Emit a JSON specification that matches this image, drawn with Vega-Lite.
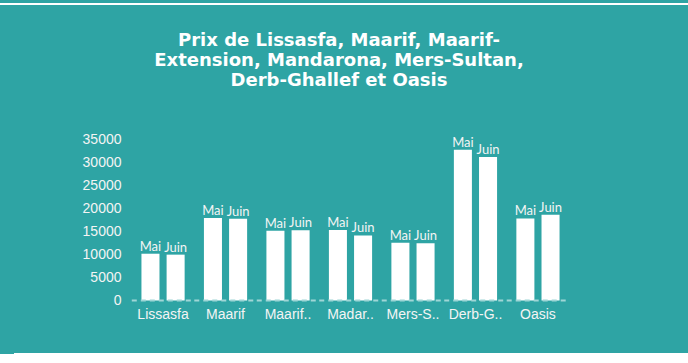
{
  "$schema": "https://vega.github.io/schema/vega-lite/v6.json",
  "width": 688,
  "height": 350,
  "autosize": {"type": "none"},
  "padding": {"left": 0, "top": 4, "right": 0, "bottom": 0},
  "background": "#2ea4a4",
  "view": {"stroke": "#ffffff", "strokeWidth": 2, "strokeDash": [688, 350, 674, 364]},
  "title": {
    "text": ["Prix de Lissasfa, Maarif, Maarif-", "Extension, Mandarona, Mers-Sultan,", "Derb-Ghallef et Oasis"],
    "font": "DejaVu Sans",
    "fontSize": 18,
    "fontWeight": "bold",
    "color": "#ffffff",
    "lineHeight": 20,
    "anchor": "middle",
    "offset": -86,
    "dx": -5
  },
  "data": {
    "values": [
      {"quartier": "Lissasfa", "mois": "Mai", "prix": 10200},
      {"quartier": "Lissasfa", "mois": "Juin", "prix": 10000},
      {"quartier": "Maarif", "mois": "Mai", "prix": 18000},
      {"quartier": "Maarif", "mois": "Juin", "prix": 17800},
      {"quartier": "Maarif-Extension", "mois": "Mai", "prix": 15200},
      {"quartier": "Maarif-Extension", "mois": "Juin", "prix": 15300},
      {"quartier": "Madarona", "mois": "Mai", "prix": 15400},
      {"quartier": "Madarona", "mois": "Juin", "prix": 14200},
      {"quartier": "Mers-Sultan", "mois": "Mai", "prix": 12600},
      {"quartier": "Mers-Sultan", "mois": "Juin", "prix": 12500},
      {"quartier": "Derb-Ghallef", "mois": "Mai", "prix": 32900},
      {"quartier": "Derb-Ghallef", "mois": "Juin", "prix": 31300},
      {"quartier": "Oasis", "mois": "Mai", "prix": 17900},
      {"quartier": "Oasis", "mois": "Juin", "prix": 18700}
    ]
  },
  "layer": [
    {
      "mark": {"type": "bar", "fill": "#ffffff"},
      "encoding": {
        "x": {
          "field": "quartier",
          "type": "nominal",
          "sort": null,
          "scale": {"range": [131.8, 569.2], "paddingInner": 0.19, "paddingOuter": 0.095},
          "axis": {
            "orient": "bottom",
            "title": null,
            "domain": false,
            "ticks": false,
            "tickSize": 0,
            "grid": false,
            "labelAngle": 0,
            "labelPadding": -47,
            "labelBaseline": "top",
            "labelFont": "Liberation Sans",
            "labelFontSize": 14,
            "labelColor": "#f4f4f4",
            "labelExpr": "datum.label == 'Maarif-Extension' ? 'Maarif..' : datum.label == 'Madarona' ? 'Madar..' : datum.label == 'Mers-Sultan' ? 'Mers-S..' : datum.label == 'Derb-Ghallef' ? 'Derb-G..' : datum.label"
          }
        },
        "xOffset": {
          "field": "mois",
          "type": "nominal",
          "sort": ["Mai", "Juin"],
          "scale": {"paddingInner": 0.283, "paddingOuter": 0.1475}
        },
        "y": {
          "field": "prix",
          "type": "quantitative",
          "scale": {"domain": [-11667, 64657], "nice": false, "zero": false},
          "axis": {
            "title": null,
            "values": [0, 5000, 10000, 15000, 20000, 25000, 30000, 35000],
            "offset": -131,
            "domain": false,
            "ticks": false,
            "tickSize": 0,
            "grid": false,
            "labelPadding": 10,
            "labelFont": "Liberation Sans",
            "labelFontSize": 14,
            "labelColor": "#f4f4f4",
            "format": "d"
          }
        },
        "y2": {"datum": 0}
      }
    },
    {
      "mark": {"type": "text", "color": "#f4f4f4", "font": "Lato", "fontSize": 13, "baseline": "alphabetic", "dy": -3},
      "encoding": {
        "x": {"field": "quartier", "type": "nominal", "sort": null},
        "xOffset": {"field": "mois", "type": "nominal", "sort": ["Mai", "Juin"]},
        "y": {"field": "prix", "type": "quantitative"},
        "text": {"field": "mois", "type": "nominal"}
      }
    },
    {
      "transform": [{"filter": "datum.mois == 'Mai'"}],
      "mark": {"type": "rule", "color": "#9fd6d6", "strokeWidth": 2, "strokeDash": [5, 4]},
      "encoding": {
        "x": {"field": "quartier", "type": "nominal", "sort": null, "bandPosition": -0.1175},
        "x2": {"field": "quartier", "bandPosition": 1.1175},
        "y": {"datum": 0, "type": "quantitative"}
      }
    }
  ]
}
